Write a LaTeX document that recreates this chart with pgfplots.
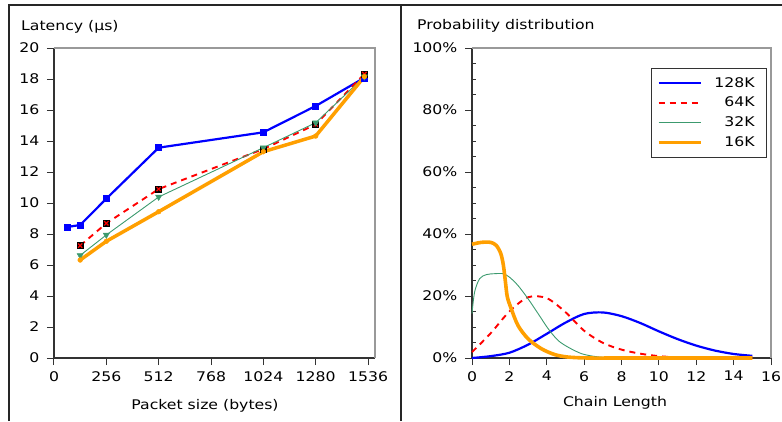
\documentclass[border=0pt]{standalone}
\usepackage{fontspec}
\setmainfont[FakeStretch=1.18]{DejaVu Sans}
\usepackage{pgfplots}
\pgfplotsset{compat=1.18}

\definecolor{c128}{HTML}{0000FF}
\definecolor{c64}{HTML}{FF0000}
\definecolor{c32}{HTML}{3C9A6E}
\definecolor{c16}{HTML}{FF9F00}

\pgfplotsset{
  panel/.style={
    scale only axis, height=310pt,
    axis x line*=bottom, axis y line*=left,
    axis line style={black!80, line width=1.5pt},
    tick align=outside, major tick length=7pt,
    tick style={black!80, line width=1pt},
    /pgf/number format/assume math mode=true,
    /pgf/number format/1000 sep={},
    scaled ticks=false,
    xticklabel shift=1.5pt, yticklabel shift=3pt,
    clip=false,
  },
}

\begin{document}
\fontsize{13.3}{16}\selectfont
\begin{tikzpicture}[x=1pt,y=1pt]
\useasboundingbox (0,0) rectangle (782,421);
\draw[black!85, line width=1.5pt] (9,0) -- (9,416) -- (782,416);
\draw[black!85, line width=1.5pt] (401,0) -- (401,416);

% ---- latency vs packet size ----
\begin{axis}[panel, at={(54pt,63pt)}, anchor=south west, width=321pt,
  xmin=0, xmax=1570, ymin=0, ymax=20,
  xtick={0,256,...,1536}, ytick={0,2,...,20}]
\addplot[c128, line width=2.2pt, mark=square*, mark size=3pt,
  mark options={line width=0.5pt}]
  coordinates {(64,8.45) (128,8.58) (256,10.28) (512,13.57) (1024,14.56) (1280,16.26) (1518,18.08)};
\addplot[c64, line width=1.9pt, dash pattern=on 6pt off 5pt, mark=square*, mark size=3pt,
  mark options={solid, fill=black, draw=black, line width=0.5pt}]
  coordinates {(128,7.25) (256,8.69) (512,10.9) (1024,13.48) (1280,15.07) (1518,18.32)};
\addplot[only marks, c64, mark=x, mark size=3pt, mark options={line width=1.2pt}]
  coordinates {(128,7.25) (256,8.69) (512,10.9) (1024,13.48) (1280,15.07) (1518,18.32)};
\addplot[c32, line width=0.9pt, mark=triangle*, mark size=3.6pt,
  mark options={rotate=180, line width=0.4pt}]
  coordinates {(128,6.62) (256,7.94) (512,10.39) (1024,13.57) (1280,15.18) (1518,18.15)};
\addplot[c16, line width=3.5pt, mark=*, mark size=2.4pt, mark options={line width=0.4pt}]
  coordinates {(128,6.32) (256,7.53) (512,9.44) (1024,13.31) (1280,14.32) (1518,18.15)};
\draw[black!40, line width=2pt] (rel axis cs:0,1) -- (rel axis cs:1,1) -- (rel axis cs:1,0);
\end{axis}

% ---- chain length distribution ----
\begin{axis}[panel, at={(472pt,63pt)}, anchor=south west, width=299pt,
  xmin=0, xmax=16, ymin=0, ymax=100,
  xtick={0,2,...,16}, ytick={0,20,...,100},
  yticklabel={\pgfmathprintnumber{\tick}\%},
  extra y ticks={5,10,15,25,30,35,45,50,55,65,70,75,85,90,95},
  extra y tick labels={},
  extra y tick style={tick align=inside, major tick length=4.3pt},
  legend cell align=right,
  legend image code/.code={\draw[#1] (0pt,0pt) -- (42pt,0pt);},
  legend style={at={(0.987,0.935)}, anchor=north east, draw=black!80,
    line width=1pt, fill=white, inner xsep=5pt, inner ysep=8.5pt, row sep=8pt,
    nodes={inner sep=0pt},
    /tikz/column 1/.style={column sep=12pt}},
]
\addplot[draw=c128, color=c128, line width=2.2pt, smooth]
  coordinates {(0,0) (1,0.6) (2,1.7) (3,4.3) (4,7.8) (5,11.4) (6,14.2) (7,14.7) (8,13.5)
    (9,11.3) (10,8.6) (11,6.1) (12,4.0) (13,2.4) (14,1.3) (15,0.7)};
\addlegendentry{128K\hspace*{7pt}}
\addplot[draw=c64, color=c64, line width=1.9pt, dash pattern=on 6pt off 5pt, smooth]
  coordinates {(0,1.9) (1,8.0) (2,15.0) (3,19.6) (4,19.3) (5,14.8) (6,8.8) (7,4.9) (8,2.7)
    (9,1.4) (10,0.6) (11,0.2) (12,0.05) (13,0) (14,0) (15,0)};
\addlegendentry{64K\hspace*{7pt}}
\addplot[draw=c32, color=c32, line width=0.9pt, smooth]
  coordinates {(0,14.3) (0.14,21.3) (0.41,25.6) (0.77,26.9) (1.21,27.2) (1.66,27.2) (2.0,26.1)
    (2.46,23.4) (3.0,19.1) (3.54,14.3) (4.07,9.5) (4.6,5.7) (5.14,3.5) (5.86,1.4) (6.57,0.5)
    (7.29,0.1) (8,0) (10,0) (12,0) (15,0)};
\addlegendentry{32K\hspace*{7pt}}
\addplot[draw=c16, color=c16, line width=3.6pt, smooth]
  coordinates {(0,36.7) (0.5,37.3) (1.0,37.3) (1.3,36.3) (1.54,33.7) (1.68,29.9) (1.79,24.5)
    (1.89,19.7) (2.1,15.9) (2.46,10.5) (3.0,6.2) (3.71,3.0) (4.43,1.1) (5.14,0.3) (6.2,0)
    (8,0) (10,0) (12,0) (15,0)};
\addlegendentry{16K\hspace*{7pt}}
\draw[black!40, line width=2pt] (rel axis cs:0,1) -- (rel axis cs:1,1) -- (rel axis cs:1,0);
\end{axis}

\node[anchor=base west, inner sep=0pt] at (21,390) {Latency (µs)};
\node[anchor=base west, inner sep=0pt] at (417,391.5) {Probability distribution};
\node[anchor=base, inner sep=0pt] at (205,11.5) {Packet size (bytes)};
\node[anchor=base, inner sep=0pt] at (615,14.3) {Chain Length};
\end{tikzpicture}
\end{document}
